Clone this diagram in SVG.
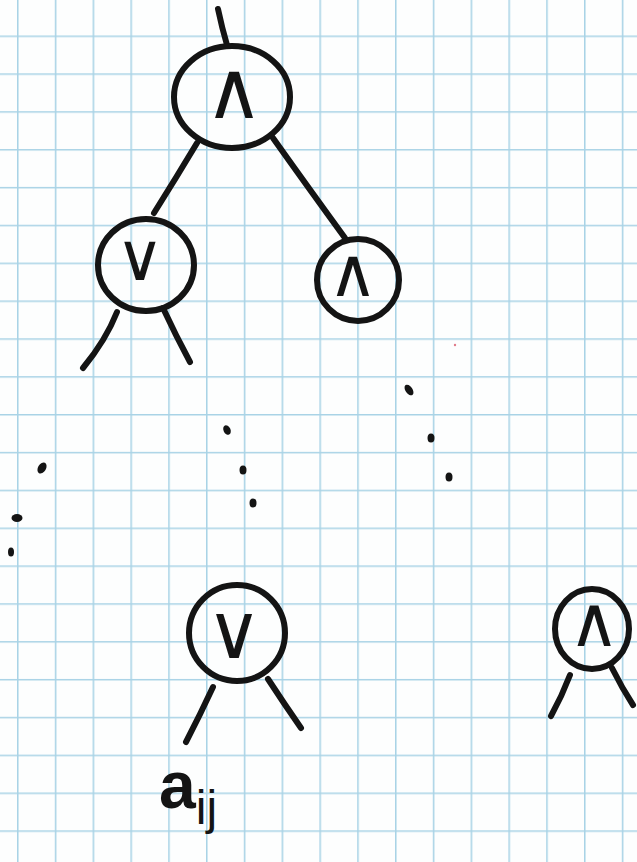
<svg xmlns="http://www.w3.org/2000/svg" width="637" height="862" viewBox="0 0 637 862">
<defs>
<pattern id="grid" x="17" y="35.5" width="37.8" height="37.85" patternUnits="userSpaceOnUse">
<path d="M0.75 0 V37.85 M0 0.75 H37.8" fill="none" stroke="#a9d3e6" stroke-width="1.6"/>
</pattern>
</defs>
<style>
.ink{fill:none;stroke:#141414;stroke-width:6;stroke-linecap:round;stroke-linejoin:round}
.op{font-family:"DejaVu Sans",sans-serif;fill:#141414;text-anchor:middle}
.dot{fill:#141414}
.lbl{font-family:"Liberation Sans",sans-serif;fill:#141414}
</style>
<rect width="637" height="862" fill="#fdfefe"/>
<rect width="637" height="862" fill="url(#grid)"/>
<g id="connectors" class="ink">
<path d="M218 9 Q222 28 227 45"/>
<path d="M197 143 Q176 178 154 213"/>
<path d="M273 138 Q310 190 345 238"/>
<path d="M117 312 Q106 340 83 368"/>
<path d="M163 308 Q176 336 190 362"/>
<path d="M213 687 Q200 715 186 742"/>
<path d="M268 679 Q285 705 301 728"/>
<path d="M570 675 Q562 696 551 716"/>
<path d="M612 668 Q622 688 633 705"/>
</g>
<g id="dots" class="dot">
<ellipse cx="227" cy="430" rx="3.5" ry="5" transform="rotate(-25 227 430)"/>
<ellipse cx="243" cy="470" rx="3.5" ry="4.5"/>
<ellipse cx="253" cy="503" rx="3.5" ry="4.5"/>
<ellipse cx="409" cy="390" rx="3.5" ry="6" transform="rotate(-35 409 390)"/>
<ellipse cx="431" cy="438" rx="3.5" ry="4.5"/>
<ellipse cx="449" cy="477" rx="3.5" ry="4.5"/>
<ellipse cx="42" cy="468" rx="4" ry="6" transform="rotate(30 42 468)"/>
<ellipse cx="17" cy="518" rx="5.5" ry="4"/>
<ellipse cx="11" cy="552" rx="3" ry="4.5"/>
<circle cx="455" cy="345" r="1.2" fill="#e07a8a"/>
</g>
<g id="node-root">
<ellipse class="ink" cx="232" cy="97" rx="58" ry="51"/>
<text class="op" x="234" y="118" font-size="80">∧</text>
</g>
<g id="node-or-left">
<ellipse class="ink" cx="146" cy="265" rx="48" ry="46"/>
<text class="op" x="140" y="280" font-size="66">∨</text>
</g>
<g id="node-and-right">
<ellipse class="ink" cx="358" cy="280" rx="41" ry="41"/>
<text class="op" x="353" y="296" font-size="68">∧</text>
</g>
<g id="node-or-bottom">
<ellipse class="ink" cx="237" cy="633" rx="48" ry="48"/>
<text class="op" x="234" y="658" font-size="76">∨</text>
</g>
<g id="node-and-bottom-right">
<ellipse class="ink" cx="592" cy="629" rx="37" ry="40"/>
<text class="op" x="594" y="646" font-size="70">∧</text>
</g>
<g id="label-aij">
<text class="lbl" x="159" y="808" font-size="66" font-weight="bold">a<tspan font-size="48" dy="16" font-weight="normal">ij</tspan></text>
</g>
</svg>
